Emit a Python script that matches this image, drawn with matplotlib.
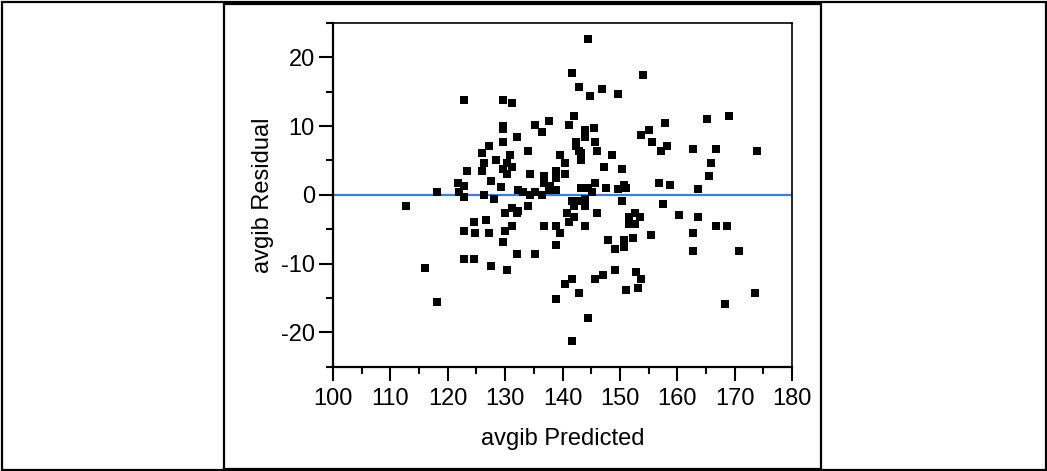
import matplotlib.pyplot as plt
from matplotlib.patches import Rectangle
from matplotlib.ticker import MultipleLocator

plt.rcParams['font.family'] = ['Liberation Sans', 'DejaVu Sans']
plt.rcParams['axes.unicode_minus'] = False

# predicted values and residuals
predicted = [
    112.8, 116.0, 118.1, 118.1, 121.7, 122.0, 122.8, 122.8, 122.8, 122.8,
    122.8, 123.3, 124.5, 124.8, 124.5, 126.4, 126.7, 127.2, 127.6, 128.1,
    127.6, 129.2, 129.6, 130.0, 130.0, 130.4, 131.2, 131.2, 132.0, 132.3,
    132.0, 132.3, 133.2, 134.0, 134.3, 135.2, 135.2, 136.4, 136.8, 136.8,
    137.6, 137.9, 138.8, 138.8, 138.8, 138.8, 139.5, 126.0, 126.4, 126.0,
    127.2, 128.4, 129.6, 131.2, 129.6, 129.6, 129.6, 132.0, 129.6, 130.4,
    130.8, 131.2, 130.4, 134.0, 135.2, 136.4, 137.6, 134.3, 136.8, 138.8,
    138.8, 139.6, 144.4, 141.6, 154.0, 142.8, 144.8, 146.8, 149.6, 142.0,
    141.2, 144.0, 145.5, 144.0, 142.4, 142.4, 145.6, 142.8, 143.2, 143.2,
    146.0, 140.4, 148.7, 147.2, 150.3, 140.4, 143.2, 144.4, 145.6, 145.2,
    147.6, 149.6, 150.7, 151.1, 153.6, 155.1, 157.9, 155.6, 157.2, 158.3,
    162.7, 166.7, 173.9, 165.1, 169.1, 165.9, 165.5, 156.8, 158.7, 163.6,
    150.3, 157.6, 141.6, 142.4, 143.2, 144.0, 144.0, 142.0, 140.8, 142.0,
    141.2, 146.0, 152.7, 151.6, 153.5, 151.6, 152.7, 160.3, 163.6, 144.0,
    166.7, 168.7, 162.7, 147.9, 150.7, 152.3, 155.5, 149.2, 150.7, 162.7,
    170.7, 149.2, 147.1, 145.6, 141.6, 140.4, 142.8, 152.8, 153.6, 151.1,
    153.1, 144.4, 141.6, 173.5, 168.3,
]
residual = [
    -1.6, -10.6, -15.6, 0.4, 1.7, 0.4, 1.35, -0.3, -5.3, -9.3,
    13.75, 3.4, -4.0, -5.6, -9.3, 0.05, -3.6, -5.6, 2.0, -0.6,
    -10.3, 1.2, -6.9, -2.6, -5.3, -11.0, -1.95, -4.6, -2.6, -2.3,
    -8.6, 0.7, 0.4, -1.6, 0.05, 0.4, -8.6, 0.05, 1.7, -4.6,
    0.7, 1.35, 0.7, -4.6, -7.3, -15.2, -5.6, 6.1, 4.7, 3.4,
    7.1, 5.0, 13.75, 13.4, 10.0, 9.6, 7.75, 8.4, 3.8, 4.7,
    5.75, 4.1, 3.1, 6.4, 10.1, 9.1, 10.75, 3.1, 2.7, 3.4,
    2.5, 5.75, 22.7, 17.7, 17.4, 15.7, 14.4, 15.35, 14.7, 11.4,
    10.1, 9.45, 9.75, 8.4, 7.75, 7.1, 7.75, 6.4, 6.1, 5.1,
    6.4, 4.7, 5.75, 4.1, 3.7, 3.1, 1.06, 1.06, 1.75, 0.4,
    1.06, 0.8, 1.45, 1.06, 8.75, 9.45, 10.4, 7.75, 6.4, 7.1,
    6.7, 6.7, 6.4, 11.1, 11.4, 4.7, 2.75, 1.75, 1.45, 0.8,
    -0.9, -1.3, -0.9, -0.9, -0.9, -0.6, -1.6, -1.6, -2.6, -3.25,
    -3.9, -2.6, -2.6, -3.25, -3.25, -4.3, -4.3, -2.9, -3.25, -4.6,
    -4.6, -4.6, -5.6, -6.6, -6.6, -6.25, -5.9, -7.9, -7.6, -8.2,
    -8.2, -11.0, -11.6, -12.3, -12.3, -12.9, -14.25, -11.25, -12.3, -13.9,
    -13.6, -17.9, -21.3, -14.25, -15.9,
]

fig = plt.figure(figsize=(10.47, 4.71), dpi=100)
W, H = 1047, 471

# outer frame and inner panel box
fig.patches.append(Rectangle((1.5 / W, 1 - 470 / H), 1044 / W, 468 / H,
                             transform=fig.transFigure, fill=False, lw=1.6, ec='black'))
fig.patches.append(Rectangle((224 / W, 1 - 469 / H), 597 / W, 465.5 / H,
                             transform=fig.transFigure, fill=False, lw=1.6, ec='black'))

ax = fig.add_axes([333 / W, 1 - 366.7 / H, 459 / W, 343.7 / H])
ax.axhline(0, color='#3a7ee6', lw=1.6, zorder=1)
ax.scatter(predicted, residual, marker='s', s=26, c='black', lw=0, zorder=2)

ax.set_xlim(100, 180)
ax.set_ylim(-25, 25)
ax.xaxis.set_major_locator(MultipleLocator(10))
ax.xaxis.set_minor_locator(MultipleLocator(5))
ax.yaxis.set_major_locator(MultipleLocator(10))
ax.yaxis.set_minor_locator(MultipleLocator(5))
ax.tick_params(which='major', length=10, width=1.5, labelsize=17, pad=3)
ax.tick_params(axis='x', which='major', pad=5)
ax.tick_params(which='minor', length=5, width=1.5)

for side in ['left', 'bottom']:
    ax.spines[side].set_linewidth(1.6)
for side in ['top', 'right']:
    ax.spines[side].set_linewidth(1.2)

ax.set_xlabel('avgib Predicted', fontsize=17, labelpad=13)
ax.set_ylabel('avgib Residual', fontsize=17, labelpad=5)

fig.savefig('out.png', dpi=100)
